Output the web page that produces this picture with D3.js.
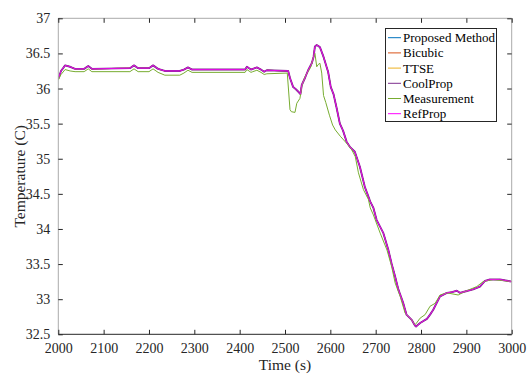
<!DOCTYPE html>
<html><head><meta charset="utf-8">
<script src="https://cdn.jsdelivr.net/npm/d3@7"></script>
<style>body{margin:0;background:#fff}svg{display:block}</style>
</head><body><svg id="c" width="529" height="376"></svg>
<script>
// ---- data ----
const seriesNames = ["Proposed Method","Bicubic","TTSE","CoolProp","Measurement","RefProp"];
const xTicks = [2000,2100,2200,2300,2400,2500,2600,2700,2800,2900,3000];
const yTicks = [32.5,33,33.5,34,34.5,35,35.5,36,36.5,37];
const yTickLabels = ["32.5","33","33.5","34","34.5","35","35.5","36","36.5","37"];

const refTime = [2000,2006,2015,2026,2037,2057,2066,2074,2158,2167,2176,2200,2209,2220,2235,2268,2277,2286,2295,2412,2416,2425,2429,2438,2447,2454,2460,2507,2511,2518,2524,2530,2534,2537,2544,2551,2559,2563,2566,2570,2577,2585,2595,2601,2607,2614,2621,2628,2636,2643,2654,2665,2676,2684,2688,2695,2702,2717,2728,2735,2743,2750,2761,2768,2779,2787,2789,2798,2813,2820,2827,2842,2857,2868,2879,2886,2897,2915,2930,2941,2952,2974,3000];
const refprop = [36.14,36.25,36.33,36.31,36.28,36.28,36.32,36.28,36.29,36.33,36.29,36.29,36.33,36.28,36.25,36.25,36.27,36.30,36.27,36.27,36.31,36.27,36.28,36.30,36.27,36.24,36.26,36.25,36.15,36.02,35.99,35.95,35.92,36.05,36.15,36.26,36.36,36.45,36.60,36.62,36.59,36.45,36.24,36.02,35.92,35.72,35.50,35.40,35.24,35.17,35.10,34.89,34.60,34.46,34.39,34.30,34.13,33.94,33.70,33.51,33.32,33.14,32.94,32.78,32.71,32.62,32.61,32.66,32.72,32.78,32.85,33.04,33.09,33.10,33.12,33.09,33.11,33.14,33.18,33.26,33.28,33.28,33.25];
const proposed = refprop.slice();
const bicubic = refprop.slice();
const ttse = refprop.slice();
const coolprop = refprop.slice();

const measTime = [2000,2006,2015,2026,2037,2057,2066,2074,2158,2167,2176,2200,2209,2220,2235,2268,2277,2286,2295,2412,2416,2425,2429,2438,2447,2454,2460,2505,2511,2514,2522,2526,2533,2537,2544,2551,2557,2562,2566,2570,2573,2577,2581,2585,2590,2598,2605,2611,2622,2636,2647,2655,2662,2673,2684,2688,2695,2699,2710,2725,2735,2743,2754,2765,2776,2787,2790,2798,2809,2820,2831,2842,2857,2882,2897,2923,2937,2959,3000];
const measurement = [36.12,36.20,36.27,36.25,36.24,36.24,36.28,36.24,36.24,36.28,36.24,36.24,36.28,36.23,36.19,36.19,36.22,36.26,36.23,36.23,36.27,36.23,36.24,36.26,36.23,36.20,36.21,36.22,35.70,35.67,35.66,35.79,35.86,36.03,36.17,36.24,36.31,36.43,36.50,36.31,36.34,36.36,36.22,35.90,35.80,35.62,35.48,35.41,35.32,35.22,35.13,35.03,34.80,34.56,34.42,34.30,34.20,34.13,33.94,33.70,33.47,33.23,33.04,32.80,32.73,32.64,32.66,32.73,32.78,32.90,32.94,33.06,33.09,33.06,33.11,33.18,33.25,33.28,33.25];

const colors = ["#0072BD","#D95319","#EDB120","#7E2F8E","#77AC30","#FF00FF"];

// ---- layout ----
const svg = d3.select("#c");
const L = 58.3, R = 511.7, T = 18.3, B = 334.3;
const x = d3.scaleLinear().domain([2000,3000]).range([L,R]);
const y = d3.scaleLinear().domain([32.5,37]).range([B,T]);
const font = "'Liberation Serif','Times New Roman',serif";

const series = [
  {name:seriesNames[0], t:refTime, v:proposed, c:colors[0], w:1},
  {name:seriesNames[1], t:refTime, v:bicubic, c:colors[1], w:1},
  {name:seriesNames[2], t:refTime, v:ttse, c:colors[2], w:1},
  {name:seriesNames[3], t:refTime, v:coolprop, c:colors[3], w:1.9},
  {name:seriesNames[4], t:measTime, v:measurement, c:colors[4], w:1},
  {name:seriesNames[5], t:refTime, v:refprop, c:colors[5], w:0.8}
];

svg.append("clipPath").attr("id","pc").append("rect")
  .attr("x",L).attr("y",T).attr("width",R-L).attr("height",B-T);

const line = d3.line().x(d=>x(d[0])).y(d=>y(d[1]));
const g = svg.append("g").attr("clip-path","url(#pc)");
series.forEach(s=>{
  g.append("path").datum(s.t.map((t,i)=>[t,s.v[i]]))
    .attr("d",line).attr("fill","none").attr("stroke",s.c)
    .attr("stroke-width",s.w).attr("stroke-linejoin","round");
});

// box
svg.append("path").attr("d",`M${L},${B}V${T}H${R}V${B}`).attr("fill","none").attr("stroke","#aaa").attr("stroke-width",1);
svg.append("line").attr("x1",L).attr("x2",R).attr("y1",B).attr("y2",B).attr("stroke","#262626").attr("stroke-width",1);

// axes
const xa = svg.append("g").attr("transform",`translate(0,${B})`)
  .call(d3.axisBottom(x).tickValues(xTicks).tickFormat(d3.format("d")).tickSizeInner(-4.5).tickSizeOuter(0).tickPadding(9));
const xt = svg.append("g").attr("transform",`translate(0,${T})`)
  .call(d3.axisTop(x).tickValues(xTicks).tickFormat("").tickSizeInner(-4.5).tickSizeOuter(0));
const ya = svg.append("g").attr("transform",`translate(${L},0)`)
  .call(d3.axisLeft(y).tickValues(yTicks).tickFormat((d,i)=>yTickLabels[i]).tickSizeInner(-4.5).tickSizeOuter(0).tickPadding(8));
const yr = svg.append("g").attr("transform",`translate(${R},0)`)
  .call(d3.axisRight(y).tickValues(yTicks).tickFormat("").tickSizeInner(-4.5).tickSizeOuter(0));
[xa,xt,ya,yr].forEach(a=>{
  a.select(".domain").remove();
  a.selectAll(".tick line").attr("stroke","#262626");
  a.selectAll("text").attr("font-family",font).attr("font-size",14).attr("fill","#262626");
});

// labels
svg.append("text").attr("x",(L+R)/2).attr("y",370).attr("text-anchor","middle")
  .attr("font-family",font).attr("font-size",15.5).attr("fill","#262626").text("Time (s)");
svg.append("text").attr("transform",`translate(25,${(T+B)/2}) rotate(-90)`).attr("text-anchor","middle")
  .attr("font-family",font).attr("font-size",15.5).attr("fill","#262626").text("Temperature (C)");

// legend
const lg = svg.append("g");
lg.append("rect").attr("x",385.5).attr("y",28.5).attr("width",111).attr("height",93)
  .attr("fill","#fff").attr("stroke","#262626").attr("stroke-width",1);
series.forEach((s,i)=>{
  const yy = 37.7 + i*15.2;
  lg.append("line").attr("x1",388).attr("x2",401).attr("y1",yy).attr("y2",yy).attr("stroke",s.c).attr("stroke-width",1);
  lg.append("text").attr("x",403).attr("y",yy+4.5).attr("font-family",font).attr("font-size",13).attr("fill","#000").text(s.name);
});
</script></body></html>
